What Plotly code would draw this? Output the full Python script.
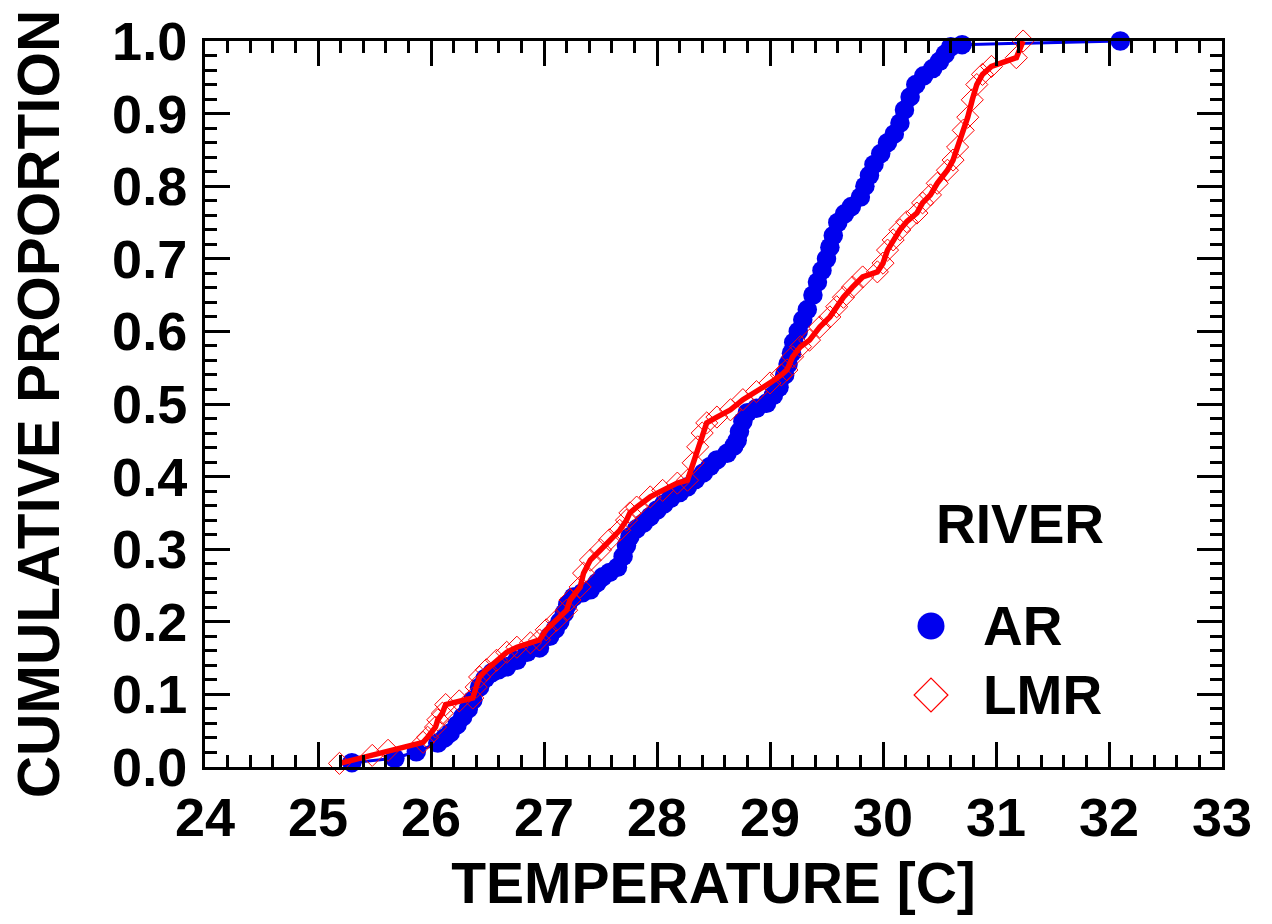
import plotly.graph_objects as go

# ---- data ----
AR_TEMP = [25.30, 25.68, 25.87, 26.06, 26.12, 26.17, 26.23, 26.28, 26.33, 26.37,
           26.43, 26.48, 26.54, 26.60, 26.67, 26.76, 26.85, 26.96, 27.05, 27.10,
           27.14, 27.18, 27.21, 27.26, 27.34, 27.41, 27.47, 27.52, 27.58, 27.65,
           27.70, 27.73, 27.76, 27.82, 27.88, 27.94, 28.00, 28.06, 28.12, 28.20,
           28.27, 28.34, 28.41, 28.47, 28.53, 28.62, 28.68, 28.71, 28.73, 28.76,
           28.80, 28.88, 28.97, 29.03, 29.08, 29.13, 29.16, 29.19, 29.21, 29.25,
           29.29, 29.33, 29.38, 29.42, 29.46, 29.50, 29.53, 29.56, 29.60, 29.66,
           29.72, 29.80, 29.84, 29.88, 29.92, 29.98, 30.04, 30.10, 30.15, 30.19,
           30.24, 30.29, 30.36, 30.44, 30.50, 30.55, 30.60, 30.70, 32.10]
AR_PROP = [0.006, 0.012, 0.021, 0.033, 0.040, 0.047, 0.058, 0.069, 0.080, 0.092,
           0.110, 0.122, 0.130, 0.134, 0.138, 0.147, 0.158, 0.164, 0.180, 0.190,
           0.200, 0.212, 0.224, 0.234, 0.240, 0.244, 0.254, 0.262, 0.268, 0.275,
           0.290, 0.305, 0.317, 0.328, 0.336, 0.345, 0.354, 0.362, 0.370, 0.378,
           0.386, 0.396, 0.405, 0.414, 0.423, 0.432, 0.442, 0.450, 0.462, 0.476,
           0.488, 0.494, 0.501, 0.512, 0.523, 0.540, 0.555, 0.570, 0.585, 0.600,
           0.616, 0.630, 0.650, 0.668, 0.684, 0.700, 0.716, 0.732, 0.750, 0.762,
           0.772, 0.785, 0.800, 0.815, 0.830, 0.845, 0.860, 0.872, 0.887, 0.905,
           0.923, 0.940, 0.952, 0.962, 0.972, 0.982, 0.992, 0.995, 1.000]

LMR_TEMP = [25.19, 25.48, 25.62, 25.93, 25.97, 26.04, 26.06, 26.10, 26.13, 26.25,
            26.37, 26.40, 26.43, 26.49, 26.58, 26.67, 26.76, 26.88, 26.96, 27.02,
            27.11, 27.20, 27.23, 27.32, 27.35, 27.41, 27.50, 27.58, 27.67, 27.73,
            27.76, 27.82, 27.94, 28.05, 28.18, 28.27, 28.32, 28.36, 28.40, 28.44,
            28.53, 28.65, 28.76, 28.88, 29.00, 29.10, 29.15, 29.20, 29.27, 29.35,
            29.44, 29.53, 29.59, 29.65, 29.73, 29.82, 29.95, 30.00, 30.04, 30.09,
            30.15, 30.21, 30.30, 30.35, 30.42, 30.48, 30.57, 30.62, 30.66, 30.71,
            30.75, 30.79, 30.83, 30.88, 30.96, 31.18, 31.24]
LMR_PROP = [0.005, 0.016, 0.023, 0.034, 0.041, 0.055, 0.065, 0.074, 0.086, 0.091,
            0.095, 0.110, 0.124, 0.134, 0.147, 0.158, 0.165, 0.171, 0.175, 0.189,
            0.202, 0.216, 0.230, 0.248, 0.267, 0.285, 0.299, 0.313, 0.326, 0.340,
            0.350, 0.358, 0.372, 0.381, 0.391, 0.395, 0.419, 0.441, 0.460, 0.474,
            0.482, 0.492, 0.506, 0.517, 0.529, 0.540, 0.547, 0.565, 0.579, 0.588,
            0.606, 0.620, 0.634, 0.647, 0.661, 0.675, 0.682, 0.694, 0.712, 0.726,
            0.740, 0.751, 0.763, 0.777, 0.788, 0.804, 0.822, 0.836, 0.854, 0.877,
            0.895, 0.919, 0.940, 0.954, 0.965, 0.977, 1.000]

X_TICKS = [24, 25, 26, 27, 28, 29, 30, 31, 32, 33]
Y_TICKS = [0.0, 0.1, 0.2, 0.3, 0.4, 0.5, 0.6, 0.7, 0.8, 0.9, 1.0]
X_TITLE = "TEMPERATURE [C]"
Y_TITLE = "CUMULATIVE PROPORTION"
LEGEND_TITLE = "RIVER"
LEGEND_NAMES = ["AR", "LMR"]

# ---- styling ----
BLUE = "#0000EE"
RED = "#FF0000"
FONT = "Liberation Sans, Arial, sans-serif"
W, H = 1272, 924
ML, MR, MT, MB = 205, 50, 41, 157

fig = go.Figure()

fig.add_trace(go.Scatter(
    x=AR_TEMP, y=AR_PROP, mode="lines+markers", name=LEGEND_NAMES[0],
    line=dict(color=BLUE, width=3),
    marker=dict(symbol="circle", size=19.5, color=BLUE, line=dict(width=0)),
    showlegend=False, cliponaxis=False))

fig.add_trace(go.Scatter(
    x=LMR_TEMP, y=LMR_PROP, mode="lines+markers", name=LEGEND_NAMES[1],
    line=dict(color=RED, width=5.5),
    marker=dict(symbol="diamond-open", size=17, color=RED, line=dict(width=1, color=RED)),
    showlegend=False, cliponaxis=False))

# custom legend (symbols on an invisible overlay axis in plot-fraction units)
pw = W - ML - MR
ph = H - MT - MB
sym_x = (931 - ML) / pw
txt_x = (981 - ML) / pw
row_y = [(H - MB - 626) / ph, (H - MB - 695) / ph]
fig.add_trace(go.Scatter(
    x=[sym_x], y=[row_y[0]], xaxis="x2", yaxis="y2", mode="markers",
    marker=dict(symbol="circle", size=27, color=BLUE), showlegend=False, hoverinfo="skip"))
fig.add_trace(go.Scatter(
    x=[sym_x], y=[row_y[1]], xaxis="x2", yaxis="y2", mode="markers",
    marker=dict(symbol="diamond-open", size=26, color=RED, line=dict(width=1.2, color=RED)),
    showlegend=False, hoverinfo="skip"))

annotations = [
    dict(text=LEGEND_TITLE, xref="paper", yref="paper", x=(1020 - ML) / pw,
         y=(H - MB - 524) / ph, xanchor="center", yanchor="middle", showarrow=False,
         font=dict(family=FONT, size=55, color="black", weight="bold")),
]
for name, yy in zip(LEGEND_NAMES, row_y):
    annotations.append(dict(text=name, xref="paper", yref="paper", x=txt_x, y=yy,
                            xanchor="left", yanchor="middle", showarrow=False,
                            font=dict(family=FONT, size=55, color="black", weight="bold")))

axis_common = dict(
    showline=True, linecolor="black", linewidth=3, mirror="ticks",
    ticks="inside", tickcolor="black", tickwidth=3, ticklen=25,
    showgrid=False, zeroline=False,
    tickfont=dict(family=FONT, size=54, color="black", weight="bold"),
)

fig.update_layout(
    width=W, height=H, autosize=False,
    margin=dict(l=ML, r=MR, t=MT, b=MB, pad=0),
    paper_bgcolor="white", plot_bgcolor="white",
    showlegend=False,
    xaxis=dict(range=[24, 33], tickvals=X_TICKS, ticktext=[str(v) for v in X_TICKS],
               minor=dict(dtick=0.2, ticks="inside", ticklen=12, tickwidth=3, tickcolor="black", showgrid=False),
               title=dict(text=X_TITLE, font=dict(family=FONT, size=57, color="black", weight="bold"), standoff=18),
               ticklabelstandoff=1,
               **axis_common),
    yaxis=dict(range=[0, 1], tickvals=Y_TICKS, ticktext=[f"{v:.1f}" for v in Y_TICKS],
               minor=dict(dtick=0.02, ticks="inside", ticklen=12, tickwidth=3, tickcolor="black", showgrid=False),
               title=dict(text=Y_TITLE, font=dict(family=FONT, size=58.5, color="black", weight="bold"), standoff=34),
               ticklabelstandoff=4,
               **axis_common),
    xaxis2=dict(overlaying="x", range=[0, 1], visible=False, fixedrange=True),
    yaxis2=dict(overlaying="y", range=[0, 1], visible=False, fixedrange=True),
    annotations=annotations,
)

fig.write_html("out.html")
